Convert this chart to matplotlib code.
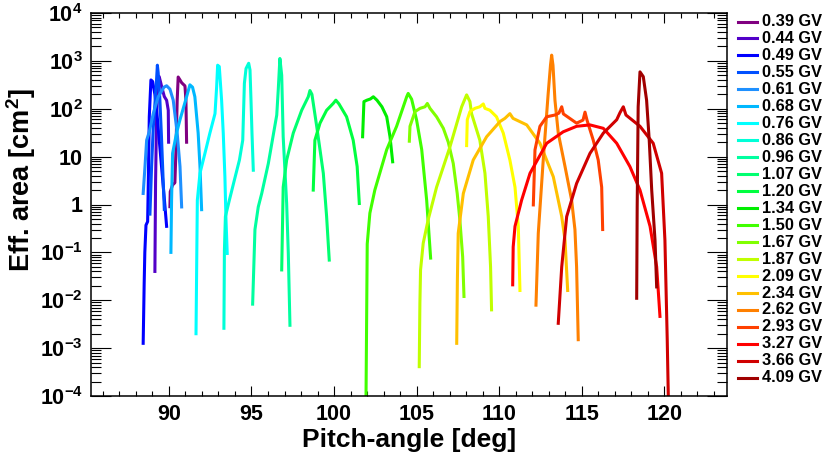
"""
Effective area vs pitch-angle for a set of rigidity bins.
"""
import math
import matplotlib
matplotlib.use("Agg")
import matplotlib.pyplot as plt
from matplotlib.lines import Line2D
from matplotlib.ticker import FixedLocator, LogLocator, NullFormatter, FuncFormatter

# Rigidity bins (legend labels) and their colours
rigidity = ["0.39", "0.44", "0.49", "0.55", "0.61", "0.68", "0.76", "0.86", "0.96", "1.07", "1.20",
            "1.34", "1.50", "1.67", "1.87", "2.09", "2.34", "2.62", "2.93", "3.27", "3.66", "4.09"]
colors = ["#800080", "#5200c8", "#0000ff", "#0050ff", "#1e90ff", "#00b8ff", "#00ffff", "#00ffd8",
          "#00ffa0", "#00ff70", "#00ff40", "#00ee00", "#40ff00", "#80ff00", "#c0ff00", "#ffff00",
          "#ffc000", "#ff8000", "#ff4000", "#ff0000", "#d00000", "#a00000"]

# Pitch-angle [deg] / effective area [cm^2] per rigidity bin
ang_039 = [90.06, 90.08, 90.22, 90.36, 90.42, 90.50, 90.56, 90.67, 90.77, 90.97, 91.03, 91.07]
eff_039 = [0.9, 1.85, 2.55, 2.85, 11.7, 150, 460, 400, 350, 300, 150, 20]

ang_044 = [89.15, 89.19, 89.25, 89.35, 89.41, 89.56, 89.72, 89.86, 89.96, 89.98]
eff_044 = [0.04, 2.8, 68, 400, 470, 290, 180, 150, 93, 20]

ang_049 = [88.44, 88.50, 88.54, 88.61, 88.71, 88.75, 88.81, 88.91, 89.01, 89.15, 89.30, 89.50, 89.70, 89.86]
eff_049 = [1.26e-3, 0.022, 0.1, 0.37, 0.44, 2.75, 68, 400, 372, 200, 63, 10, 1.6, 0.35]

ang_055 = [88.85, 88.95, 89.05, 89.15, 89.25, 89.30, 89.35, 89.45, 89.55, 89.65, 89.72]
eff_055 = [0.63, 6.3, 40, 126, 400, 813, 560, 158, 25, 3.2, 0.79]

ang_061 = [88.44, 88.55, 88.65, 88.81, 89.05, 89.35, 89.70, 89.86, 90.06, 90.26, 90.50, 90.67, 90.77]
eff_061 = [1.7, 6.2, 22, 33, 79, 178, 282, 302, 257, 151, 31, 6.2, 0.89]

ang_068 = [90.12, 90.16, 90.22, 90.46, 90.67, 91.07, 91.27, 91.43, 91.57, 91.77, 91.88, 91.98]
eff_068 = [0.1, 1.23, 11.7, 31, 59, 178, 316, 282, 178, 31, 6.2, 0.78]

ang_076 = [91.64, 91.68, 91.72, 91.88, 92.18, 92.48, 92.79, 92.89, 92.95, 93.05, 93.19, 93.29, 93.39, 93.45, 93.53]
eff_076 = [2.0e-3, 0.05, 1.23, 4.5, 11.7, 31, 79, 288, 813, 759, 151, 31, 3.8, 0.56, 0.095]

ang_086 = [93.33, 93.36, 93.42, 93.66, 93.96, 94.27, 94.47, 94.57, 94.67, 94.83, 94.91, 94.97, 95.03, 95.11]
eff_086 = [2.6e-3, 0.11, 0.56, 1.23, 3.2, 8.5, 22, 339, 692, 891, 646, 151, 31, 5.2]

ang_096 = [95.07, 95.21, 95.41, 95.62, 96.02, 96.53, 96.62, 96.72, 96.83, 96.92, 97.13, 97.23, 97.33]
eff_096 = [8.3e-3, 0.3, 0.89, 1.7, 7.2, 74, 245, 1122, 501, 26, 1.05, 0.095, 3.0e-3]

ang_107 = [96.83, 96.92, 97.13, 97.53, 98.04, 98.44, 98.54, 98.66, 98.95, 99.35, 99.55, 99.71]
eff_107 = [0.043, 2.3, 8.5, 31, 93, 178, 240, 200, 43, 4.5, 0.56, 0.069]

ang_120 = [98.74, 98.84, 99.15, 99.55, 99.95, 100.11, 100.30, 100.76, 101.16, 101.40, 101.53]
eff_120 = [2.0, 22, 50, 93, 129, 151, 126, 68, 22, 6.2, 1.05]

ang_134 = [101.73, 101.81, 101.99, 102.20, 102.38, 102.60, 102.90, 103.19, 103.39, 103.55]
eff_134 = [26, 141, 151, 160, 178, 151, 110, 68, 26, 7.8]

ang_150 = [101.93, 101.96, 102.01, 102.17, 102.47, 102.77, 103.19, 103.79, 104.40, 104.49, 104.70,
           105.00, 105.31, 105.61, 105.85]
eff_150 = [5e-5, 1e-3, 0.15, 0.66, 2.0, 4.5, 14, 43, 178, 209, 158, 58, 14, 1.23, 0.076]

ang_167 = [104.56, 104.60, 104.90, 105.21, 105.51, 105.65, 105.81, 106.21, 106.62, 106.92, 107.22,
           107.46, 107.62, 107.79, 107.87]
eff_167 = [21, 43, 87, 102, 110, 129, 102, 68, 39, 20, 7.2, 1.7, 0.48, 0.081, 0.012]

ang_187 = [105.16, 105.20, 105.24, 105.40, 105.70, 106.21, 107.02, 107.73, 108.03, 108.23, 108.33,
           108.83, 109.14, 109.34, 109.48, 109.54]
eff_187 = [4.1e-4, 8.7e-3, 0.043, 0.155, 0.48, 2.3, 16, 110, 195, 141, 79, 22, 4.5, 0.56, 0.05, 6.3e-3]

ang_209 = [108.03, 108.07, 108.23, 108.53, 108.83, 109.04, 109.14, 109.44, 109.84, 110.25, 110.65,
           110.96, 111.16, 111.26]
eff_209 = [17, 59, 87, 102, 110, 126, 102, 93, 68, 31, 8.5, 2.3, 0.35, 0.016]

ang_234 = [107.43, 107.47, 107.52, 107.83, 108.43, 109.24, 110.05, 110.35, 110.65, 110.84, 111.67,
           112.47, 113.28, 113.79, 113.99, 114.15]
eff_234 = [1.26e-3, 0.026, 0.25, 1.7, 8.5, 26, 54, 63, 79, 63, 46, 19, 3.8, 0.56, 0.18, 0.016]

ang_262 = [112.23, 112.37, 112.67, 112.97, 113.11, 113.18, 113.26, 113.38, 113.58, 113.99, 114.39,
           114.59, 114.69, 114.79]
eff_262 = [7.9e-3, 0.25, 8.5, 209, 813, 1318, 813, 151, 31, 6.2, 1.23, 0.3, 0.05, 1.5e-3]

ang_293 = [112.07, 112.17, 112.47, 112.88, 113.38, 113.62, 113.79, 113.89, 114.69, 115.08, 115.20,
           115.32, 115.70, 116.00, 116.21, 116.27]
eff_293 = [0.98, 13.8, 43, 68, 74, 81, 110, 78, 50, 58, 85, 58, 22, 8.5, 2.3, 0.3]

ang_327 = [110.82, 110.85, 110.96, 111.36, 111.87, 112.88, 113.88, 114.69, 115.50, 116.31, 117.12,
           117.92, 118.53, 119.14, 119.54, 119.74]
eff_327 = [0.021, 0.13, 0.35, 1.23, 4.5, 19, 33, 43, 46, 39, 19, 6.2, 2.0, 0.35, 0.05, 4.6e-3]

ang_366 = [113.58, 113.79, 114.09, 114.69, 115.50, 116.31, 117.12, 117.32, 117.52, 117.68, 118.53,
           119.33, 119.84, 120.04, 120.18, 120.25]
eff_366 = [3.3e-3, 0.05, 0.56, 2.75, 11.7, 31, 59, 83, 110, 74, 43, 19, 4.5, 0.18, 1.5e-3, 8e-5]

ang_409 = [118.33, 118.36, 118.42, 118.53, 118.73, 118.93, 119.09, 119.24, 119.44, 119.54]
eff_409 = [0.011, 0.89, 110, 589, 468, 151, 22, 2.0, 0.18, 0.019]

angles = [ang_039, ang_044, ang_049, ang_055, ang_061, ang_068, ang_076, ang_086, ang_096, ang_107, ang_120,
          ang_134, ang_150, ang_167, ang_187, ang_209, ang_234, ang_262, ang_293, ang_327, ang_366, ang_409]
areas = [eff_039, eff_044, eff_049, eff_055, eff_061, eff_068, eff_076, eff_086, eff_096, eff_107, eff_120,
         eff_134, eff_150, eff_167, eff_187, eff_209, eff_234, eff_262, eff_293, eff_327, eff_366, eff_409]

x_ticks = [90, 95, 100, 105, 110, 115, 120]

FONT = "Liberation Sans"
plt.rcParams["font.family"] = FONT
plt.rcParams["font.weight"] = "bold"
plt.rcParams["mathtext.fontset"] = "custom"
plt.rcParams["mathtext.rm"] = FONT + ":bold"
plt.rcParams["mathtext.bf"] = FONT + ":bold"
plt.rcParams["mathtext.it"] = FONT + ":bold"

W, H = 830, 458


def log_label(v, pos):
    exp = int(round(math.log10(v)))
    if exp == 0:
        return "1"
    if exp == 1:
        return "10"
    return r"$\mathbf{10^{%d}}$" % exp


def main():
    fig = plt.figure(figsize=(W / 100, H / 100), dpi=100)
    ax = fig.add_axes([91 / W, (H - 396) / H, 636 / W, 383 / H])

    for x, y, c in zip(angles, areas, colors):
        ax.plot(x, y, color=c, lw=2.2, solid_joinstyle="round")

    ax.set_yscale("log")
    ax.set_xlim(85.28, 123.8)
    ax.set_ylim(1e-4, 1e4)

    ax.xaxis.set_major_locator(FixedLocator(x_ticks))
    ax.xaxis.set_minor_locator(FixedLocator(range(86, 124)))
    ax.yaxis.set_major_locator(LogLocator(base=10, numticks=20))
    ax.yaxis.set_minor_locator(LogLocator(base=10, subs=range(2, 10), numticks=20))
    ax.yaxis.set_major_formatter(FuncFormatter(log_label))
    ax.yaxis.set_minor_formatter(NullFormatter())

    ax.tick_params(axis="both", which="both", direction="in", top=True, right=True, width=0.8)
    ax.tick_params(axis="x", which="major", length=7.2, labelsize=15.5, pad=6)
    ax.tick_params(axis="x", which="minor", length=3.6)
    ax.tick_params(axis="y", which="major", length=14.4, labelsize=15.5, pad=6)
    ax.tick_params(axis="y", which="minor", length=7.2)
    for sp in ax.spines.values():
        sp.set_linewidth(1.1)

    ax.set_xlabel("Pitch-angle [deg]", fontsize=19, fontweight="bold", labelpad=2)
    ax.set_ylabel(r"Eff. area [cm$^{\mathbf{2}}$]", fontsize=19.5, fontweight="bold")
    ax.yaxis.set_label_coords(-0.083, 0.565)

    # Legend drawn outside the frame, one row per rigidity bin
    y0, dy = 21.5, 16.97
    for i, (lab, c) in enumerate(zip(rigidity, colors)):
        yy = 1 - (y0 + i * dy) / H
        fig.add_artist(Line2D([738 / W, 757 / W], [yy, yy], color=c, lw=2.2,
                              transform=fig.transFigure))
        fig.text(762 / W, yy, lab + " GV", fontsize=11.8, fontweight="bold",
                 va="center", ha="left")

    fig.savefig("out.png", dpi=100)
    plt.close(fig)


if __name__ == "__main__":
    main()
